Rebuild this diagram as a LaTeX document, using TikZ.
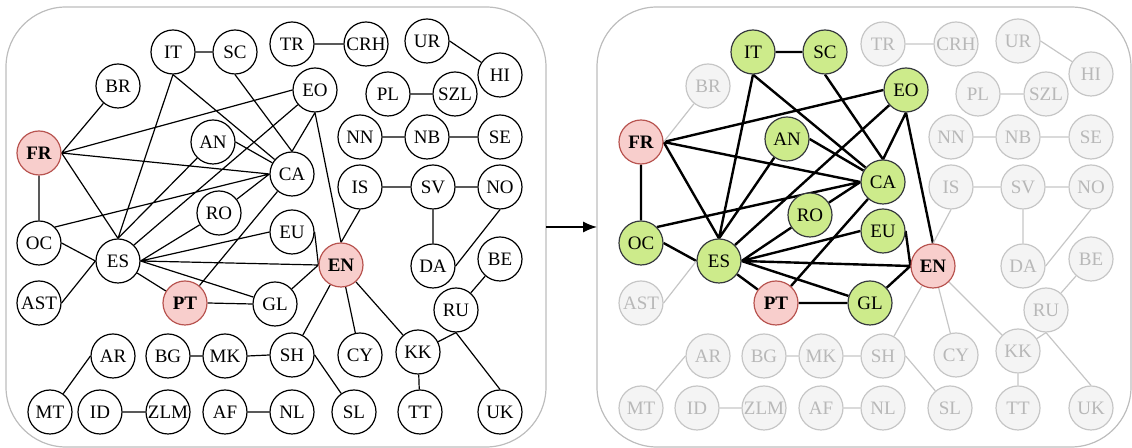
\documentclass[tikz,border=0pt]{standalone}
\usepackage[rgb]{xcolor}
\usepackage{tikz}
\usepackage{fontspec}
\setmainfont{Liberation Serif}
\usetikzlibrary{arrows.meta,backgrounds}

\definecolor{srcfill}{HTML}{F8CECC}
\definecolor{srcline}{HTML}{B85450}
\definecolor{hitfill}{HTML}{CDEB8B}
\definecolor{hitline}{HTML}{36393D}
\definecolor{offfill}{HTML}{F4F4F4}
\definecolor{offline}{HTML}{C6C6C6}
\definecolor{offtext}{HTML}{B8B8B8}
\definecolor{frameline}{HTML}{BDBDBD}

\begin{document}
\begin{tikzpicture}[x=0.5pt, y=-0.5pt,
  lang/.style={circle, draw=black, fill=white, line width=0.6pt, minimum size=22pt, inner sep=0pt, font=\fontsize{9.5}{11}\selectfont},
  src/.style={lang, fill=srcfill, draw=srcline, font=\fontsize{9.5}{11}\selectfont\bfseries},
  hit/.style={lang, fill=hitfill, draw=hitline},
  off/.style={lang, fill=offfill, draw=offline, text=offtext},
  link/.style={line width=0.6pt},
  boldlink/.style={line width=1.2pt},
  offlink/.style={line width=0.6pt, draw=offline},
  panel/.style={draw=frameline, line width=0.6pt, rounded corners=30pt}]

\useasboundingbox (0,0) rectangle (1132,448);

% Panels
\draw[panel] (6,7) rectangle (546,447);
\draw[panel] (597,7) rectangle (1131,447);

% Arrow between the panels
\coordinate (leftside) at (546,227);
\coordinate (rightside) at (597,227);
\draw[-{Latex[length=7pt,width=5.5pt]}, line width=0.7pt] (leftside) -- (rightside);



% Left panel: all languages
\path
(173,52) node[lang] (it) {IT}
(235,52) node[lang] (sc) {SC}
(292,44) node[lang] (tr) {TR}
(366,44) node[lang] (crh) {CRH}
(427,41) node[lang] (ur) {UR}
(500,75) node[lang] (hi) {HI}
(118,86) node[lang] (br) {BR}
(315,90) node[lang] (eo) {EO}
(388,94) node[lang] (pl) {PL}
(455,94) node[lang] (szl) {SZL}
(39,153) node[src] (fr) {FR}
(213,142) node[lang] (an) {AN}
(360,137) node[lang] (nn) {NN}
(427,137) node[lang] (nb) {NB}
(500,137) node[lang] (se) {SE}
(292,174) node[lang] (ca) {CA}
(360,187) node[lang] (is) {IS}
(433,187) node[lang] (sv) {SV}
(500,187) node[lang] (no) {NO}
(219,213) node[lang] (ro) {RO}
(292,232) node[lang] (eu) {EU}
(39,243) node[lang] (oc) {OC}
(118,261) node[lang] (es) {ES}
(341,265) node[src] (en) {EN}
(433,266) node[lang] (da) {DA}
(500,259) node[lang] (be) {BE}
(39,303) node[lang] (ast) {AST}
(185,303) node[src] (pt) {PT}
(275,304) node[lang] (gl) {GL}
(456,310) node[lang] (ru) {RU}
(113,356) node[lang] (ar) {AR}
(168,356) node[lang] (bg) {BG}
(225,356) node[lang] (mk) {MK}
(292,355) node[lang] (sh) {SH}
(360,355) node[lang] (cy) {CY}
(418,352) node[lang] (kk) {KK}
(50,412) node[lang] (mt) {MT}
(100,412) node[lang] (id) {ID}
(168,412) node[lang] (zlm) {ZLM}
(225,412) node[lang] (af) {AF}
(292,412) node[lang] (nl) {NL}
(354,412) node[lang] (sl) {SL}
(420,412) node[lang] (tt) {TT}
(500,412) node[lang] (uk) {UK};

\begin{scope}[on background layer]
\draw[link]
(fr.east) -- (br) (fr.south) -- (oc.north) (fr.east) -- (eo.west)
(fr.east) -- (ca.west) (fr.east) -- (es.north)
(it.east) -- (sc.west) (it.south) -- (es.north) (it.south) -- (ca)
(sc.south) -- (ca.north) (an.east) -- (ca) (an) -- (es.north)
(eo.south) -- (ca.north) (es.45) -- (eo) (eo.south) -- (en.north)
(oc.45) -- (ca.west) (oc.east) -- (es.west) (ast.east) -- (es.west)
(es.east) -- (ro) (es.east) -- (eu.west) (es.east) -- (en.west)
(es.east) -- (gl) (es) -- (pt) (ro) -- (ca.west) (ca) -- (pt)
(eu.east) -- (en.west) (gl) -- (en.west) (pt.east) -- (gl.west)
(is.south) -- (en.north) (en) -- (sh) (en) -- (cy) (en) -- (kk)
(tr.east) -- (crh.west) (ur.east) -- (hi) (pl.east) -- (szl.west)
(nn.east) -- (nb.west) (nb.east) -- (se.west)
(is.east) -- (sv.west) (sv.east) -- (no.west) (sv.south) -- (da.north)
(no.south) -- (da.east) (be) -- (ru) (kk) -- (ru.south) (ru.south) -- (uk.north)
(kk) -- (tt) (sh.east) -- (sl) (mk.east) -- (sh.west) (bg.east) -- (mk.west)
(ar.west) -- (mt) (id.east) -- (zlm.west) (af.east) -- (nl.west);
\end{scope}



% Right panel: languages reached from FR, PT and EN
\path
(753,52) node[hit] (it2) {IT}
(825,52) node[hit] (sc2) {SC}
(883,44) node[off] (tr2) {TR}
(956,44) node[off] (crh2) {CRH}
(1018,41) node[off] (ur2) {UR}
(1091,74) node[off] (hi2) {HI}
(708,86) node[off] (br2) {BR}
(906,90) node[hit] (eo2) {EO}
(978,94) node[off] (pl2) {PL}
(1046,94) node[off] (szl2) {SZL}
(641,142) node[src] (fr2) {FR}
(787,139) node[hit] (an2) {AN}
(951,137) node[off] (nn2) {NN}
(1018,137) node[off] (nb2) {NB}
(1091,137) node[off] (se2) {SE}
(883,182) node[hit] (ca2) {CA}
(951,187) node[off] (is2) {IS}
(1023,187) node[off] (sv2) {SV}
(1091,187) node[off] (no2) {NO}
(810,215) node[hit] (ro2) {RO}
(883,231) node[hit] (eu2) {EU}
(641,243) node[hit] (oc2) {OC}
(719,261) node[hit] (es2) {ES}
(933,266) node[src] (en2) {EN}
(1023,266) node[off] (da2) {DA}
(1091,259) node[off] (be2) {BE}
(641,303) node[off] (ast2) {AST}
(776,303) node[src] (pt2) {PT}
(870,303) node[hit] (gl2) {GL}
(1046,310) node[off] (ru2) {RU}
(708,356) node[off] (ar2) {AR}
(764,356) node[off] (bg2) {BG}
(821,356) node[off] (mk2) {MK}
(883,356) node[off] (sh2) {SH}
(956,355) node[off] (cy2) {CY}
(1018,351) node[off] (kk2) {KK}
(641,408) node[off] (mt2) {MT}
(697,408) node[off] (id2) {ID}
(764,408) node[off] (zlm2) {ZLM}
(821,408) node[off] (af2) {AF}
(883,408) node[off] (nl2) {NL}
(950,408) node[off] (sl2) {SL}
(1018,408) node[off] (tt2) {TT}
(1091,408) node[off] (uk2) {UK};

\begin{scope}[on background layer]
\draw[boldlink]
(fr2.south) -- (oc2.north) (fr2.east) -- (eo2.west)
(fr2.east) -- (ca2.west) (fr2.east) -- (es2.north)
(it2.east) -- (sc2.west) (it2.south) -- (es2.north) (it2.south) -- (ca2)
(sc2.south) -- (ca2.north) (an2.east) -- (ca2) (an2) -- (es2.north)
(eo2.south) -- (ca2.north) (es2.45) -- (eo2) (eo2.south) -- (en2.north)
(oc2.45) -- (ca2.west) (oc2.east) -- (es2.west)
(es2.east) -- (ro2) (es2.east) -- (eu2.west) (es2.east) -- (en2.west)
(es2.east) -- (gl2) (es2) -- (pt2) (ro2) -- (ca2.west) (ca2) -- (pt2)
(eu2.east) -- (en2.west) (gl2) -- (en2.west) (pt2.east) -- (gl2.west);
\draw[offlink]
(fr2.east) -- (br2) (ast2.east) -- (es2.west)
(is2.south) -- (en2.north) (en2) -- (sh2) (en2) -- (cy2) (en2) -- (kk2)
(tr2.east) -- (crh2.west) (ur2.east) -- (hi2) (pl2.east) -- (szl2.west)
(nn2.east) -- (nb2.west) (nb2.east) -- (se2.west)
(is2.east) -- (sv2.west) (sv2.east) -- (no2.west) (sv2.south) -- (da2.north)
(no2.south) -- (da2.east) (be2) -- (ru2) (kk2) -- (ru2.south) (ru2.south) -- (uk2.north)
(kk2) -- (tt2) (sh2.east) -- (sl2) (mk2.east) -- (sh2.west) (bg2.east) -- (mk2.west)
(ar2.west) -- (mt2) (id2.east) -- (zlm2.west) (af2.east) -- (nl2.west);
\end{scope}

\end{tikzpicture}
\end{document}
